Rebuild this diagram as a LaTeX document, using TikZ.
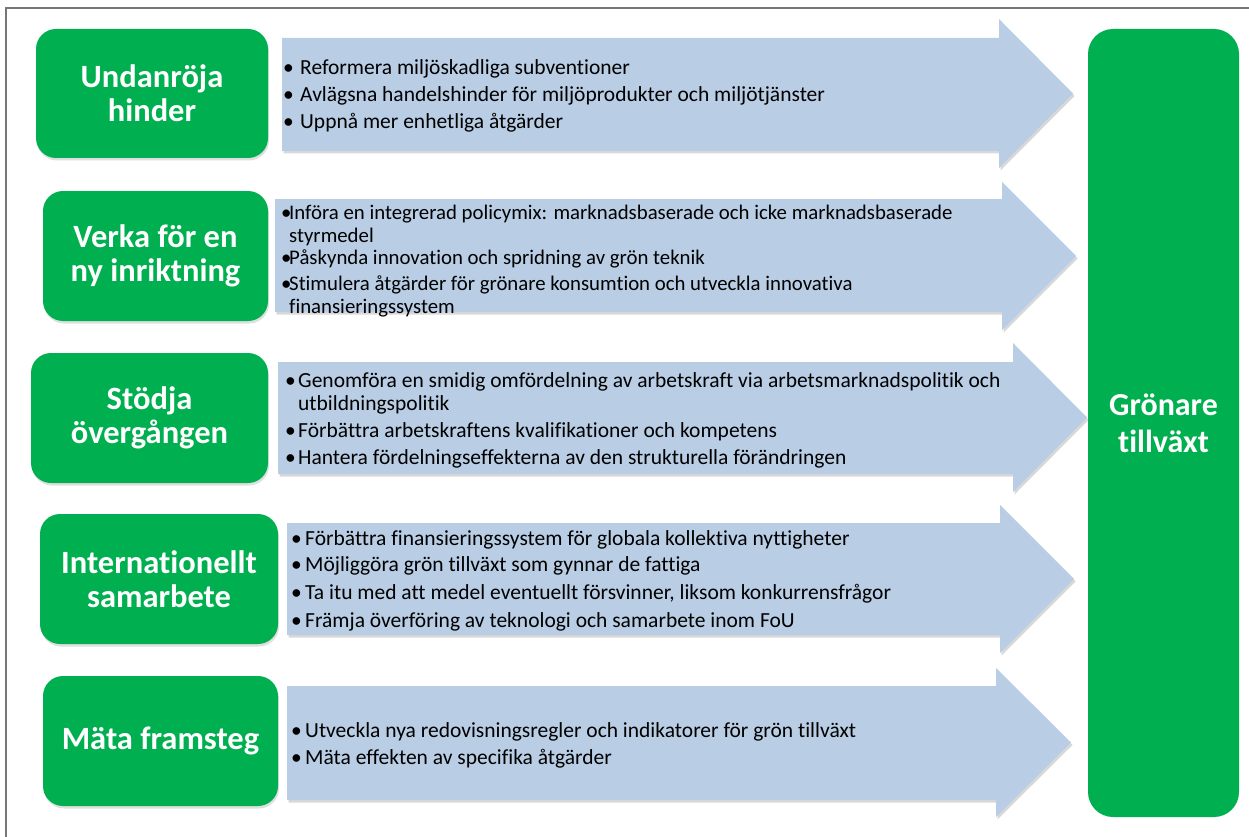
\documentclass[tikz,border=0pt]{standalone}
\usepackage{fontspec}
\setmainfont[RawFeature={-liga}]{Carlito}
\newfontfamily\condfont[RawFeature={-liga}]{Carlito}
\usetikzlibrary{shadows}
\definecolor{grn}{RGB}{0,176,80}
\definecolor{arw}{RGB}{185,205,229}
\definecolor{frm}{RGB}{118,118,118}
\newcommand\bul[1]{\makebox[#1pt][l]{\textbullet}}
\tikzset{
  gbox/.style={fill=grn, draw=none, rounded corners=20pt, inner sep=0pt,
    text=white, font=\fontsize{32.5}{34}\selectfont\bfseries, align=center,
    drop shadow={shadow xshift=1pt, shadow yshift=-2.5pt, opacity=0.25}},
  arrowfill/.style={fill=arw, drop shadow={shadow xshift=1.5pt, shadow yshift=-2.5pt, opacity=0.3}},
  txtline/.style={anchor=base west, inner sep=0pt, font=\fontsize{21.5}{23}\selectfont},
  condline/.style={anchor=base west, inner sep=0pt, font=\condfont\fontsize{20.8}{23}\selectfont},
}
\begin{document}
\begin{tikzpicture}[x=1pt,y=-1pt]
\useasboundingbox (0,0) rectangle (1249,837);
\fill[white] (0,0) rectangle (1249,837);
% frame
\draw[frm, line width=1.5pt] (6,837) -- (6,8) -- (1249,8);

% arrows
\path[arrowfill] (282,38) -- (999,38) -- (999,19) -- (1073,93.5) -- (999,168) -- (999,151) -- (282,151) -- cycle;
\path[arrowfill] (275,199) -- (1002,199) -- (1002,182) -- (1076,256) -- (1002,330) -- (1002,312) -- (275,312) -- cycle;
\path[arrowfill] (278,362) -- (1013,362) -- (1013,343) -- (1087,417.5) -- (1013,492) -- (1013,474) -- (278,474) -- cycle;
\path[arrowfill] (287,523) -- (1000,523) -- (1000,505) -- (1074,579) -- (1000,653) -- (1000,635) -- (287,635) -- cycle;
\path[arrowfill] (287,686) -- (996,686) -- (996,668) -- (1071,742.5) -- (996,817) -- (996,800) -- (287,800) -- cycle;

% green boxes
\node[gbox, minimum width=232pt, minimum height=129pt] (g1) at (152,93.5) {Undanröja\\hinder};
\node[gbox, minimum width=225pt, minimum height=130pt] (g2) at (155.5,256) {Verka för en\\ny inriktning};
\node[gbox, minimum width=237pt, minimum height=130pt] (g3) at (149.5,418) {Stödja\\övergången};
\node[gbox, minimum width=238pt, minimum height=130pt] (g4) at (159,579) {Internationellt\\samarbete};
\node[gbox, minimum width=235pt, minimum height=130pt] (g5) at (160.5,741) {Mäta framsteg};
\node[fill=grn, draw=none, rounded corners=25pt, inner sep=0pt, text=white,
  font=\fontsize{32}{37}\selectfont\bfseries, align=center,
  minimum width=151pt, minimum height=788pt] (gt) at (1163.5,423) {Grönare\\tillväxt};

% arrow 1 text
\node[txtline] (a1a) at (283,75) {\bul{17}Reformera miljöskadliga subventioner};
\node[txtline] (a1b) at (283,102) {\bul{17}Avlägsna handelshinder för miljöprodukter och miljötjänster};
\node[txtline] (a1c) at (283,129) {\bul{17}Uppnå mer enhetliga åtgärder};

% arrow 2 text
\node[condline] (a2a) at (281,219.5) {\bul{8}Införa en integrerad policymix: marknadsbaserade och icke marknadsbaserade};
\node[condline] (a2b) at (289,242.5) {styrmedel};
\node[condline] (a2c) at (281,264.5) {\bul{8}Påskynda innovation och spridning av grön teknik};
\node[condline] (a2d) at (281,290.5) {\bul{8}Stimulera åtgärder för grönare konsumtion och utveckla innovativa};
\node[condline] (a2e) at (289,313.5) {finansieringssystem};

% arrow 3 text
\node[txtline] (a3a) at (285,387) {\bul{13}Genomföra en smidig omfördelning av arbetskraft via arbetsmarknadspolitik och};
\node[txtline] (a3b) at (298,410) {utbildningspolitik};
\node[txtline] (a3c) at (285,437) {\bul{13}Förbättra arbetskraftens kvalifikationer och kompetens};
\node[txtline] (a3d) at (285,464) {\bul{13}Hantera fördelningseffekterna av den strukturella förändringen};

% arrow 4 text
\node[txtline] (a4a) at (291,545) {\bul{14}Förbättra finansieringssystem för globala kollektiva nyttigheter};
\node[txtline] (a4b) at (291,571) {\bul{14}Möjliggöra grön tillväxt som gynnar de fattiga};
\node[txtline] (a4c) at (291,599) {\bul{14}Ta itu med att medel eventuellt försvinner, liksom konkurrensfrågor};
\node[txtline] (a4d) at (291,627) {\bul{14}Främja överföring av teknologi och samarbete inom FoU};

% arrow 5 text
\node[txtline] (a5a) at (291,737.5) {\bul{14}Utveckla nya redovisningsregler och indikatorer för grön tillväxt};
\node[txtline] (a5b) at (291,764.5) {\bul{14}Mäta effekten av specifika åtgärder};
\end{tikzpicture}
\end{document}
